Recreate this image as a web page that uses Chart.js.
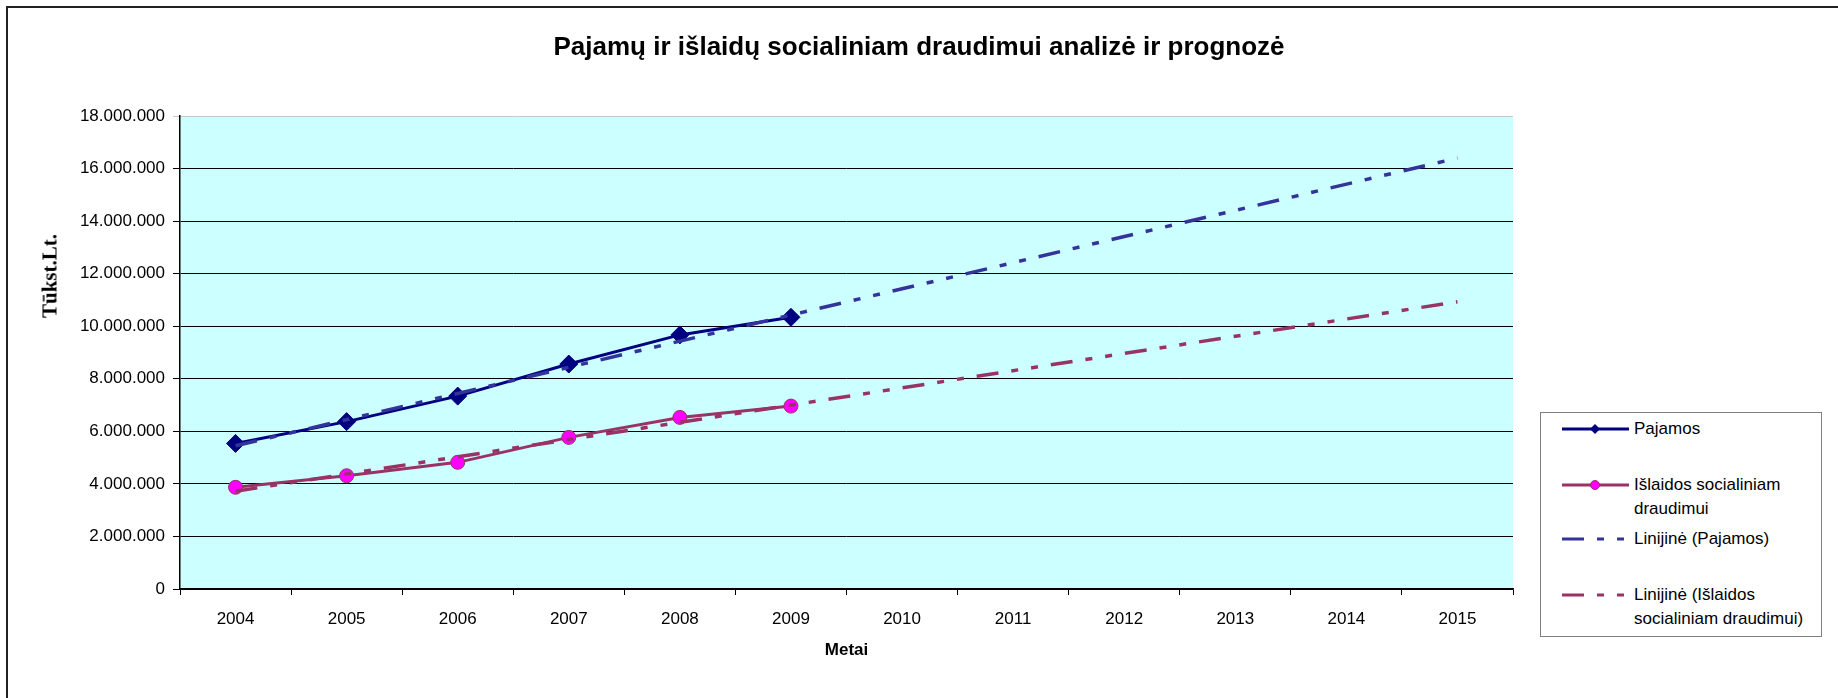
<!DOCTYPE html>
<html>
<head>
<meta charset="utf-8">
<script src="https://cdn.jsdelivr.net/npm/chart.js@4.4.0/dist/chart.umd.min.js"></script>
<style>
  html, body { margin: 0; padding: 0; background: #fff; }
  #wrap { position: relative; width: 1838px; height: 698px; overflow: hidden; font-family: Arial, "Liberation Sans", sans-serif; }
  #frame { position: absolute; left: 6px; top: 6px; width: 1900px; height: 800px; border-left: 2px solid #222; border-top: 2px solid #222; }
  #chart-box { position: absolute; left: 0; top: 0; width: 1838px; height: 698px; }
  #title { position: absolute; left: 0; width: 1838px; top: 31px; text-align: center; font-size: 26px; font-weight: bold; color: #000; }
  #ytitle { position: absolute; left: 50px; top: 276px; transform: translate(-50%, -50%) rotate(-90deg); font-family: "Times New Roman", "Liberation Serif", serif; font-weight: bold; font-size: 21px; white-space: nowrap; }
  #legend { position: absolute; left: 1540px; top: 412px; width: 280px; height: 223px; border: 1px solid #808080; background: #fff; font-size: 17px; }
  .leg-item { position: absolute; left: 20px; }
  .leg-item svg { position: absolute; left: 0; top: 0; }
  .leg-item span { position: absolute; left: 73px; top: 0; line-height: 24px; white-space: nowrap; }
</style>
</head>
<body>
<div id="wrap">
  <div id="frame"></div>
  <div id="chart-box"><canvas id="chart"></canvas></div>
  <div id="title">Pajamų ir išlaidų socialiniam draudimui analizė ir prognozė</div>
  <div id="ytitle">Tūkst.Lt.</div>
  <div id="legend"></div>
</div>
<script>
const years = ['2004', '2005', '2006', '2007', '2008', '2009', '2010', '2011', '2012', '2013', '2014', '2015'];
const pajamos = [5540000, 6370000, 7340000, 8560000, 9670000, 10340000, null, null, null, null, null, null];
const islaidos = [3870000, 4310000, 4820000, 5770000, 6530000, 6960000, null, null, null, null, null, null];
// trend lines: read at the two ends, straight in between
const pajamosTrend = [5450000, null, null, null, null, null, null, null, null, null, null, 16400000];
const islaidosTrend = [3720000, null, null, null, null, null, null, null, null, null, null, 10930000];
const yTicks = [0, 2000000, 4000000, 6000000, 8000000, 10000000, 12000000, 14000000, 16000000, 18000000];

const seriesNames = ['Pajamos', 'Išlaidos socialiniam draudimui', 'Linijinė (Pajamos)', 'Linijinė (Išlaidos socialiniam draudimui)'];
const trendDash = [22, 13, 7, 13, 7, 13];

const plotBg = {
    id: 'plotBg',
    beforeDraw(chart) {
        const a = chart.chartArea;
        const ctx = chart.ctx;
        ctx.save();
        ctx.fillStyle = '#ccffff';
        ctx.fillRect(a.left, a.top, a.right - a.left, a.bottom - a.top);
        ctx.restore();
    }
};

const fmt = v => String(v).replace(/\B(?=(\d{3})+(?!\d))/g, '.');

new Chart(document.getElementById('chart'), {
    type: 'line',
    data: {
        labels: years,
        datasets: [
            {
                label: seriesNames[2],
                data: pajamosTrend,
                borderColor: '#333399',
                borderWidth: 3.5,
                borderDash: trendDash,
                pointRadius: 0,
                spanGaps: true,
                tension: 0
            },
            {
                label: seriesNames[3],
                data: islaidosTrend,
                borderColor: '#993366',
                borderWidth: 3.5,
                borderDash: trendDash,
                pointRadius: 0,
                spanGaps: true,
                tension: 0
            },
            {
                label: seriesNames[0],
                data: pajamos,
                borderColor: '#000080',
                backgroundColor: '#000080',
                borderWidth: 3,
                pointStyle: 'rectRot',
                pointRadius: 9,
                pointBorderWidth: 1,
                tension: 0
            },
            {
                label: seriesNames[1],
                data: islaidos,
                borderColor: '#993366',
                backgroundColor: '#ff00ff',
                pointBorderColor: '#993366',
                borderWidth: 3,
                pointStyle: 'circle',
                pointRadius: 7,
                pointBorderWidth: 1,
                tension: 0
            }
        ]
    },
    options: {
        responsive: true,
        maintainAspectRatio: false,
        animation: false,
        layout: { padding: { left: 0, right: 325, top: 116, bottom: 0 } },
        plugins: {
            legend: { display: false },
            title: { display: false },
            tooltip: { enabled: false }
        },
        scales: {
            x: {
                type: 'category',
                offset: true,
                grid: { drawOnChartArea: false, drawTicks: true, tickLength: 6, offset: true, color: '#000' },
                border: { color: '#000', width: 1.5 },
                ticks: { color: '#000', font: { family: 'Arial, "Liberation Sans"', size: 17 }, padding: 14, maxRotation: 0, autoSkip: false },
                title: {
                    display: true,
                    text: 'Metai',
                    color: '#000',
                    font: { family: 'Arial, "Liberation Sans"', size: 17, weight: 'bold' },
                    padding: { top: 0, bottom: 37 }
                },
                afterFit(scale) { scale.height = 109; }
            },
            y: {
                min: 0,
                max: 18000000,
                afterBuildTicks(scale) { scale.ticks = yTicks.map(v => ({ value: v })); },
                grid: {
                    color: ctx => (ctx.tick && ctx.tick.value === 18000000 ? '#c8c8c8' : '#000'),
                    lineWidth: 1,
                    tickLength: 7,
                    drawTicks: true
                },
                border: { color: '#000', width: 1.5 },
                ticks: {
                    color: '#000',
                    font: { family: 'Arial, "Liberation Sans"', size: 17 },
                    padding: 8,
                    callback: v => fmt(v)
                },
                afterFit(scale) { scale.width = 180; }
            }
        }
    },
    plugins: [plotBg]
});

// legend drawn as html with small svg samples
const legendEl = document.getElementById('legend');
const legendRows = [
    { text: seriesNames[0], top: 4, color: '#000080', dash: '', marker: 'diamond' },
    { text: 'Išlaidos socialiniam<br>draudimui', top: 60, color: '#993366', dash: '', marker: 'circle' },
    { text: seriesNames[2], top: 114, color: '#333399', dash: '22 13 7 13 7 13', marker: '' },
    { text: 'Linijinė (Išlaidos<br>socialiniam draudimui)', top: 170, color: '#993366', dash: '22 13 7 13 7 13', marker: '' }
];
legendRows.forEach(r => {
    const item = document.createElement('div');
    item.className = 'leg-item';
    item.style.top = r.top + 'px';
    let mk = '';
    if (r.marker === 'diamond') mk = '<polygon points="34,7 39,12 34,17 29,12" fill="#000080"/>';
    if (r.marker === 'circle') mk = '<circle cx="34" cy="12" r="4.5" fill="#ff00ff" stroke="#993366" stroke-width="1"/>';
    item.innerHTML = `
        <svg width="70" height="24"><line x1="1" y1="12" x2="68" y2="12" stroke="${r.color}" stroke-width="3" ${r.dash ? `stroke-dasharray="${r.dash}"` : ''}/>${mk}</svg>
        <span>${r.text}</span>`;
    legendEl.appendChild(item);
});
</script>
</body>
</html>
